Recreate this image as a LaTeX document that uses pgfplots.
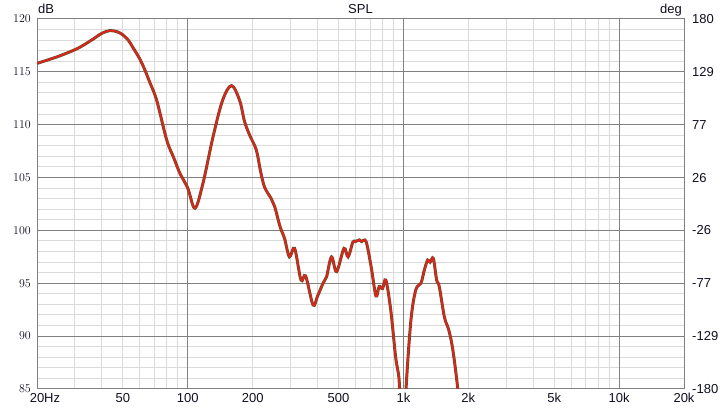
\documentclass[border=0pt]{standalone}
\usepackage{pgfplots}
\usepackage{pgfplotstable}
\pgfplotsset{compat=1.18}
\usepackage{fontspec}
\setmainfont{Liberation Sans}
\definecolor{majgrid}{RGB}{128,128,128}
\definecolor{mingrid}{RGB}{218,218,218}
\definecolor{curveout}{RGB}{100,80,40}
\definecolor{curvein}{RGB}{228,34,28}
\definecolor{txt}{RGB}{15,15,30}

\pgfplotstableread{
f db
20 115.8
25 116.45
30 117.1
33 117.55
36.4 118.1
40 118.65
43.5 118.9
47 118.8
50 118.5
53 118.0
55.7 117.3
60 116.2
63.2 115.2
67 113.9
71.8 112.3
79.9 108.55
86 106.9
92 105.4
100 104.0
108 102.1
117.6 104.45
130.8 108.8
145 112.3
159.6 113.7
174 112.3
183.4 110.3
193.8 109.0
208 107.6
217 105.7
227 104.1
244 103.0
253 102.25
268 100.35
281 99.25
296 97.5
313 98.3
335 95.3
352 95.7
381 92.95
400 93.8
424 95.0
440 95.6
464 97.5
490 96.1
530 98.3
554 97.5
583 98.9
600 98.95
624 99.1
640 98.95
671 98.95
708 96.6
746 93.8
772 94.7
800 94.5
829 95.3
873 92.5
920 88.05
947 86.5
960 85
990 78
1028 85
1084 91.55
1142 94.4
1206 95.0
1250 96.25
1295 97.2
1330 97.0
1376 97.35
1426 95.3
1466 94.7
1549 91.8
1622 90.6
1695 88.7
1788 85
1900 80
}\spl

\begin{document}
\fontsize{13bp}{15bp}\selectfont
\begin{tikzpicture}
\useasboundingbox (-37bp,-26bp) rectangle (683bp,389bp);
\begin{axis}[
  name=main,
  at={(0,0)}, anchor=south west,
  scale only axis, width=647bp, height=370bp,
  xmode=log, xmin=20, xmax=20000, ymin=85, ymax=120,
  axis line style={majgrid, line width=1bp},
  xtick={20,50,100,200,500,1000,2000,5000,10000,20000},
  xticklabels={20\rlap{Hz},50,100,200,500,1k,2k,5k,10k,20k},
  minor xtick={30,40,50,60,70,80,90,200,300,400,500,600,700,800,900,2000,3000,4000,5000,6000,7000,8000,9000},
  ytick={85,90,95,100,105,110,115,120},
  minor y tick num=4,
  xmajorgrids=false, ymajorgrids=true, xminorgrids=true, yminorgrids=true,
  major grid style={majgrid, line width=1bp},
  minor grid style={mingrid, line width=1bp},
  major tick length=0pt, minor tick length=0pt,
  extra x ticks={100,1000,10000},
  extra x tick labels={},
  extra x tick style={xmajorgrids=true, major grid style={majgrid, line width=1bp}},
  tick label style={text=txt, font=\fontsize{13bp}{15bp}\selectfont},
  xticklabel style={anchor=base, inner sep=0pt, yshift=-13.5bp},
  yticklabel style={anchor=east, inner sep=0pt, xshift=-6bp},
  clip=true,
]
\addplot[curveout, line width=3bp, smooth, tension=0.55] table[x=f, y=db] {\spl};
\addplot[curvein, line width=1.7bp, smooth, tension=0.55] table[x=f, y=db] {\spl};
\end{axis}
\begin{axis}[
  at={(0,0)}, anchor=south west,
  scale only axis, width=647bp, height=370bp,
  xmode=log, xmin=20, xmax=20000, ymin=-180, ymax=180,
  axis x line=none, axis y line*=right,
  y axis line style={draw=none},
  ytick={-180,-128.57,-77.14,-25.71,25.71,77.14,128.57,180},
  yticklabels={-180,-129,-77,-26,26,77,129,180},
  major tick length=0pt,
  tick label style={text=txt, font=\fontsize{13bp}{15bp}\selectfont},
  yticklabel style={anchor=west, inner sep=0pt, xshift=8bp},
]
\end{axis}
\node[anchor=base west, inner sep=0pt, text=txt] at (1bp,375bp) {dB};
\node[anchor=base, inner sep=0pt, text=txt] at (323.5bp,375bp) {SPL};
\node[anchor=base east, inner sep=0pt, text=txt] at (645bp,375bp) {deg};
\end{tikzpicture}
\end{document}
